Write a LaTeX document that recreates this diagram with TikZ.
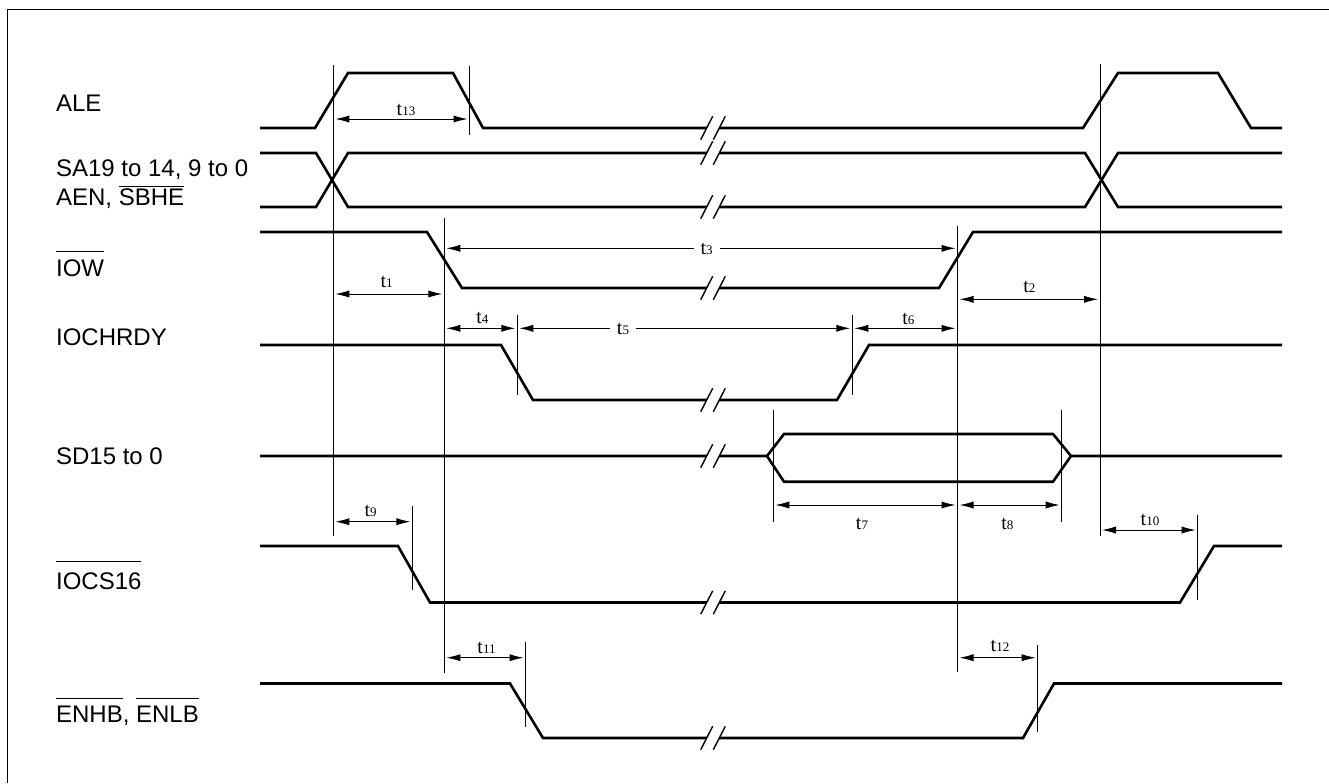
\documentclass[tikz,border=0pt]{standalone}
\usepackage{fontspec}
\setmainfont{Liberation Sans}
\newfontfamily\tfont{Liberation Serif}
\usetikzlibrary{arrows.meta}
% timing label t with small index
\newcommand{\tm}[1]{{\tfont\fontsize{10}{12}\selectfont t{\fontsize{6.5}{7}\selectfont #1}}}
% active-low bar over a signal name
\newcommand{\ovl}[2][3.5pt]{\vbox{\hrule height 0.5pt\kern#1\hbox{#2}}}

\begin{document}
\begin{tikzpicture}[x=0.5pt, y=-0.5pt, >={Latex[length=7pt,width=3.6pt]},
  sig/.style={line width=1.3pt},
  vref/.style={line width=0.5pt},
  dim/.style={<->, line width=0.5pt, shorten <=1pt, shorten >=1pt},
  tlab/.style={anchor=base, inner sep=0pt},
  gaplab/.style={anchor=base, fill=white, inner xsep=3.5pt, inner ysep=1pt},
  slab/.style={anchor=base west, inner sep=0pt, font=\fontsize{12}{14}\selectfont}]
\useasboundingbox (0,0) rectangle (1329,783);
% frame
\draw[line width=0.7pt] (7.3,783) -- (7.3,9.3) -- (1329,9.3);

% signal names
\node[slab] (ale) at (55.7,111) {ALE};
\node[slab] (sa) at (55.7,176.7) {SA19 to 14, 9 to 0};
\node[slab] (aen) at (55.7,205.7) {AEN, \ovl[1pt]{SBHE}};
\node[slab] (iow) at (55.7,276.7) {\ovl[3.8pt]{IOW}};
\node[slab] (iochrdy) at (55.7,345.5) {IOCHRDY};
\node[slab] (sd) at (55.7,464.5) {SD15 to 0};
\node[slab] (iocs) at (55.7,589.3) {\ovl[5.2pt]{IOCS16}};
\node[slab] (enb) at (55.7,722.3) {\ovl[3.6pt]{ENHB}, \ovl[3.6pt]{ENLB}};

% waveforms
\draw[sig] (260,128) -- (315,128) -- (348,73) -- (453,73) -- (483,128) -- (1083,128)
  -- (1118,73) -- (1218,73) -- (1251,128) -- (1282,128);
\draw[sig] (260,153) -- (316,153) -- (348,207) -- (1085,207) -- (1118,153) -- (1282,153);
\draw[sig] (260,207) -- (316,207) -- (348,153) -- (1085,153) -- (1118,207) -- (1282,207);
\draw[sig] (260,232) -- (427,232) -- (462,288) -- (939,288) -- (973,232) -- (1282,232);
\draw[sig] (260,345) -- (501,345) -- (533,400) -- (837,400) -- (869,345) -- (1282,345);
\draw[sig] (260,456) -- (767,456) -- (784,434) -- (1053,434) -- (1071,456) -- (1282,456);
\draw[sig] (767,456) -- (784,481.7) -- (1053,481.7) -- (1071,456);
\draw[sig] (260,546) -- (398,546) -- (430,602.5) -- (1180,602.5) -- (1214,546) -- (1282,546);
\draw[sig] (260,683.5) -- (510,683.5) -- (543,738) -- (1023,738) -- (1054,683.5) -- (1282,683.5);

% breaks
\foreach \y in {128,153,207,288,400,456,602.5,738}{
  \fill[white] (700.7,\y+11.7) -- (712.7,\y-11.7) -- (725.3,\y-11.7) -- (713.3,\y+11.7) -- cycle;
  \draw[line width=0.7pt] (700.7,\y+11.7) -- (712.7,\y-11.7) (713.3,\y+11.7) -- (725.3,\y-11.7);
}

% reference lines
\coordinate (r1) at (333.3,65);
\coordinate (r2) at (469.5,66);
\coordinate (r3) at (444.3,218);
\coordinate (r4) at (957.5,226);
\coordinate (r5) at (1100,64);
\coordinate (r6) at (517.3,315);
\coordinate (r7) at (852.3,315);
\coordinate (r8) at (773.3,410);
\coordinate (r9) at (1061.7,410);
\coordinate (r10) at (412.3,506);
\coordinate (r11) at (1197.7,515);
\coordinate (r12) at (525.5,642);
\coordinate (r13) at (1037.7,645);
\draw[vref] (r1) -- (r1 |- 0,536);
\draw[vref] (r2) -- (r2 |- 0,134.5);
\draw[vref] (r3) -- (r3 |- 0,673);
\draw[vref] (r4) -- (r4 |- 0,672);
\draw[vref] (r5) -- (r5 |- 0,536);
\draw[vref] (r6) -- (r6 |- 0,395);
\draw[vref] (r7) -- (r7 |- 0,394.5);
\draw[vref] (r8) -- (r8 |- 0,522);
\draw[vref] (r9) -- (r9 |- 0,522);
\draw[vref] (r10) -- (r10 |- 0,590);
\draw[vref] (r11) -- (r11 |- 0,600);
\draw[vref] (r12) -- (r12 |- 0,727);
\draw[vref] (r13) -- (r13 |- 0,732);

% timing arrows
\draw[dim] (r1 |- 0,119) -- (r2 |- 0,119);
\draw[dim] (r1 |- 0,294) -- (r3 |- 0,294);
\draw[dim] (r3 |- 0,248.3) -- (r4 |- 0,248.3);
\draw[dim] (r4 |- 0,299.3) -- (r5 |- 0,299.3);
\draw[dim] (r3 |- 0,328.3) -- (r6 |- 0,328.3);
\draw[dim] (r6 |- 0,328.3) -- (r7 |- 0,328.3);
\draw[dim] (r7 |- 0,328.3) -- (r4 |- 0,328.3);
\draw[dim] (r8 |- 0,505) -- (r4 |- 0,505);
\draw[dim] (r4 |- 0,505) -- (r9 |- 0,505);
\draw[dim] (r1 |- 0,521.7) -- (r10 |- 0,521.7);
\draw[dim] (r5 |- 0,530) -- (r11 |- 0,530);
\draw[dim] (r3 |- 0,657.7) -- (r12 |- 0,657.7);
\draw[dim] (r4 |- 0,657.7) -- (r13 |- 0,657.7);

% timing labels
\node[tlab] (t13) at (406,115) {\tm{13}};
\node[tlab] (t1) at (386.7,287.3) {\tm{1}};
\node[gaplab] (t3) at (706.7,254) {\tm{3}};
\node[tlab] (t2) at (1029.3,292.7) {\tm{2}};
\node[tlab] (t4) at (482.3,323.3) {\tm{4}};
\node[gaplab] (t5) at (623,334) {\tm{5}};
\node[tlab] (t6) at (908.3,324) {\tm{6}};
\node[tlab] (t7) at (862,529.3) {\tm{7}};
\node[tlab] (t8) at (1007.3,529.3) {\tm{8}};
\node[tlab] (t9) at (370.7,516.7) {\tm{9}};
\node[tlab] (t10) at (1150,525) {\tm{10}};
\node[tlab] (t11) at (486.5,653.3) {\tm{11}};
\node[tlab] (t12) at (1000,651.7) {\tm{12}};
\end{tikzpicture}
\end{document}
